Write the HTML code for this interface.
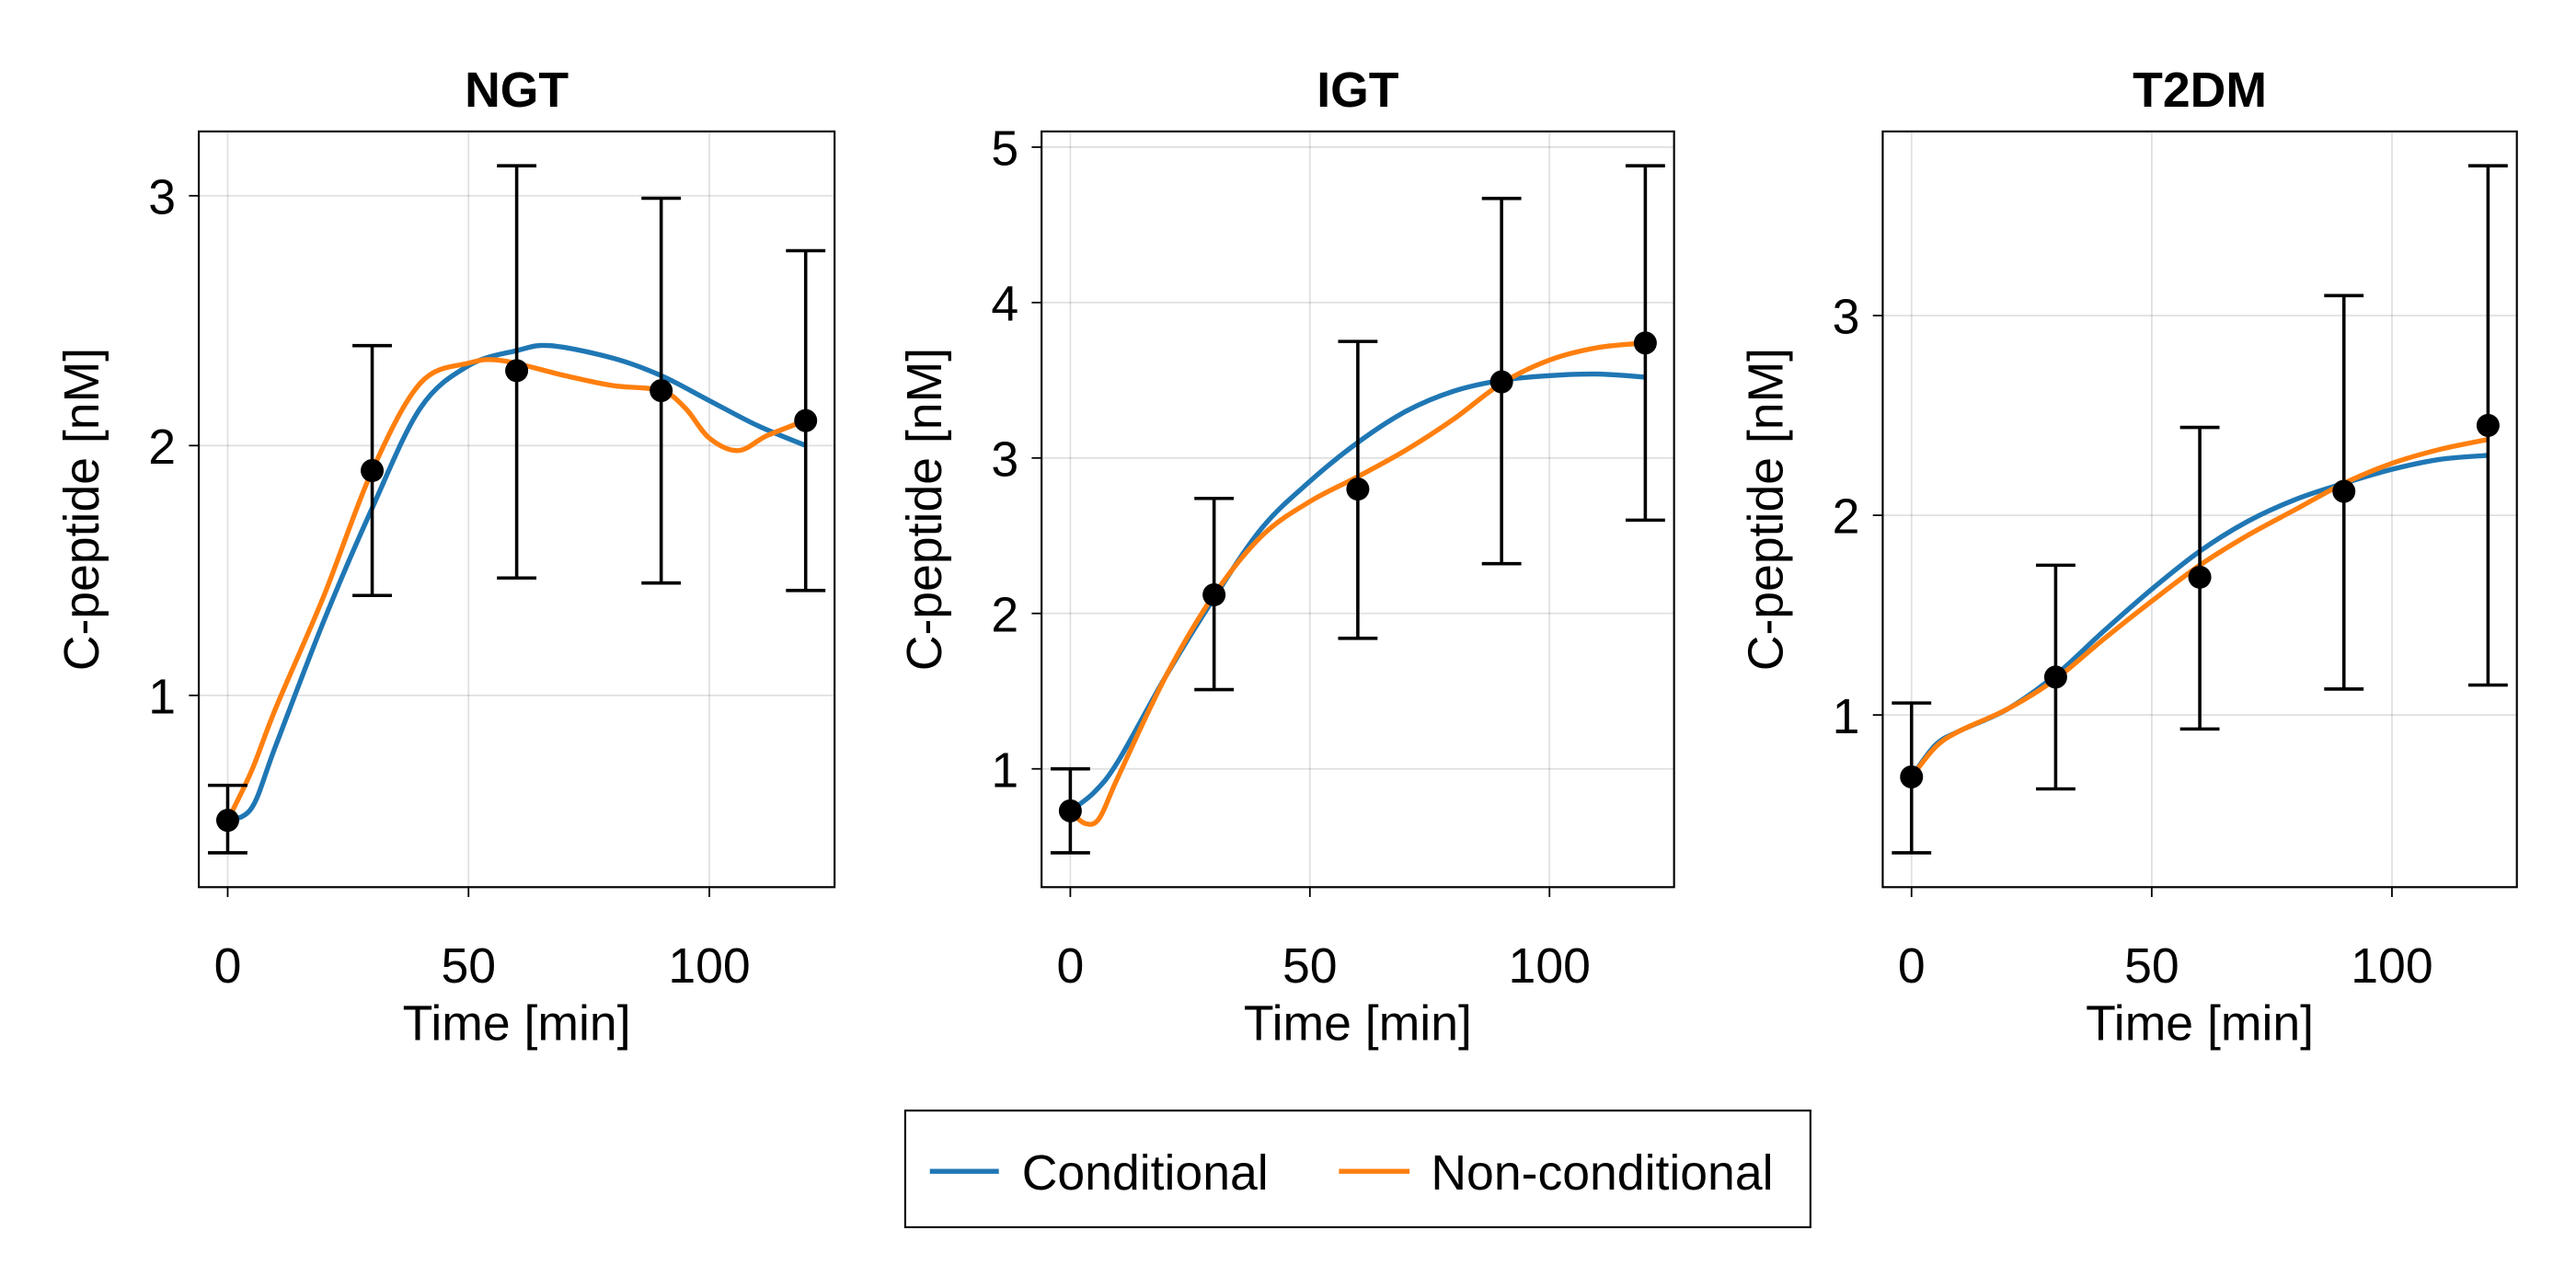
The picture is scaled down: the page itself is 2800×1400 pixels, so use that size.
<!DOCTYPE html>
<html><head><meta charset="utf-8"><style>
html,body{margin:0;padding:0;background:#fff;width:2800px;height:1400px;overflow:hidden}
svg{display:block}
text{font-family:"Liberation Sans",sans-serif;fill:#000}
</style></head><body>
<svg id="chart" width="2800" height="1400" viewBox="0 0 1568 784" xmlns="http://www.w3.org/2000/svg"></svg>
<script>
const panelTitles = ["NGT","IGT","T2DM"];
const timePoints = [0,30,60,90,120];
const ngtMean = [0.5,1.9,2.30,2.22,2.10];
const ngtLow = [0.37,1.40,1.47,1.45,1.42];
const ngtHigh = [0.64,2.40,3.12,2.99,2.78];
const igtMean = [0.73,2.12,2.80,3.49,3.74];
const igtLow = [0.46,1.51,1.84,2.32,2.60];
const igtHigh = [1.0,2.74,3.75,4.67,4.88];
const t2dmMean = [0.69,1.19,1.69,2.12,2.45];
const t2dmLow = [0.31,0.63,0.93,1.13,1.15];
const t2dmHigh = [1.06,1.75,2.44,3.10,3.75];
const ngtCurveT = [0,5,10,20,30,40,50,60,67,80,90,100,110,120];
const ngtCond = [0.5,0.55,0.8,1.3,1.75,2.15,2.32,2.38,2.40,2.35,2.28,2.18,2.08,2.0];
const ngtNonT = [0,5,10,20,30,40,50,57,70,80,90,95,100,106,112,120];
const ngtNon = [0.5,0.7,0.95,1.4,1.9,2.25,2.33,2.34,2.28,2.24,2.22,2.15,2.03,1.98,2.04,2.1];
const igtCondT = [0,5,10,20,30,40,50,60,70,80,90,100,110,120];
const igtCond = [0.73,0.85,1.05,1.6,2.1,2.55,2.85,3.1,3.3,3.43,3.5,3.53,3.54,3.52];
const igtNonT = [0,3,6,10,20,30,40,50,60,70,80,90,100,110,120];
const igtNon = [0.73,0.65,0.68,0.95,1.6,2.12,2.5,2.72,2.88,3.05,3.25,3.48,3.63,3.71,3.74];
const t2dmCurveT = [0,5,10,20,30,40,50,60,70,80,90,100,110,120];
const t2dmCond = [0.69,0.85,0.92,1.03,1.2,1.42,1.63,1.82,1.97,2.08,2.16,2.23,2.28,2.30];
const t2dmNon = [0.69,0.84,0.92,1.03,1.18,1.38,1.57,1.75,1.9,2.03,2.16,2.26,2.33,2.38];
const xTicks = [0,50,100];
const ngtYTicks = [1,2,3];
const igtYTicks = [1,2,3,4,5];
const t2dmYTicks = [1,2,3];

const svg = document.getElementById('chart');
const NS = "http://www.w3.org/2000/svg";
const FS = 30;
function mk(tag, attrs, parent){const e=document.createElementNS(NS,tag);for(const k in attrs)e.setAttribute(k,attrs[k]);(parent||svg).appendChild(e);return e;}
function smooth(pts){let d=`M${pts[0][0]},${pts[0][1]}`;for(let i=0;i<pts.length-1;i++){const p0=pts[Math.max(i-1,0)],p1=pts[i],p2=pts[i+1],p3=pts[Math.min(i+2,pts.length-1)];
const c1=[p1[0]+(p2[0]-p0[0])/6,p1[1]+(p2[1]-p0[1])/6],c2=[p2[0]-(p3[0]-p1[0])/6,p2[1]-(p3[1]-p1[1])/6];d+=` C${c1[0]},${c1[1]} ${c2[0]},${c2[1]} ${p2[0]},${p2[1]}`;}return d;}

const panels = [
 {left:121,right:508,mean:ngtMean,low:ngtLow,high:ngtHigh,condT:ngtCurveT,cond:ngtCond,nonT:ngtNonT,non:ngtNon,yt:ngtYTicks},
 {left:634,right:1019,mean:igtMean,low:igtLow,high:igtHigh,condT:igtCondT,cond:igtCond,nonT:igtNonT,non:igtNon,yt:igtYTicks},
 {left:1146,right:1532,mean:t2dmMean,low:t2dmLow,high:t2dmHigh,condT:t2dmCurveT,cond:t2dmCond,nonT:t2dmCurveT,non:t2dmNon,yt:t2dmYTicks}
];
const axTop=80,axBottom=540;
panels.forEach((p,i)=>{
  const g=mk('g',{});
  
  
  const xmin=-6,xmax=126;
  const ymin=Math.min(...p.low),ymax=Math.max(...p.high),pad=(ymax-ymin)*0.05;
  const y0=ymin-pad,y1=ymax+pad;
  const X=v=>p.left+(v-xmin)/(xmax-xmin)*(p.right-p.left);
  const Y=v=>axBottom-(v-y0)/(y1-y0)*(axBottom-axTop);
  xTicks.forEach(t=>{
    const gl=mk('line',{x1:X(t),x2:X(t),y1:axTop,y2:axBottom,stroke:'#000','stroke-opacity':0.12,'stroke-width':1},g);
    
    mk('line',{x1:X(t),x2:X(t),y1:axBottom,y2:axBottom+6,stroke:'#000','stroke-width':1},g);
    const tx=mk('text',{x:X(t),y:axBottom+58,'text-anchor':'middle','font-size':FS},g);tx.textContent=t;
    
  });
  p.yt.forEach(t=>{
    const gl=mk('line',{x1:p.left,x2:p.right,y1:Y(t),y2:Y(t),stroke:'#000','stroke-opacity':0.12,'stroke-width':1},g);
    
    mk('line',{x1:p.left-6,x2:p.left,y1:Y(t),y2:Y(t),stroke:'#000','stroke-width':1},g);
    const tx=mk('text',{x:p.left-14,y:Y(t)+11,'text-anchor':'end','font-size':FS},g);tx.textContent=t;
    
  });
  const cp=mk('path',{d:smooth(p.condT.map((t,k)=>[X(t),Y(p.cond[k])])),fill:'none',stroke:'#1f77b4','stroke-width':3},g);
  
  const np=mk('path',{d:smooth(p.nonT.map((t,k)=>[X(t),Y(p.non[k])])),fill:'none',stroke:'#ff7f0e','stroke-width':3},g);
  
  timePoints.forEach((t,k)=>{
    const eb=mk('path',{d:`M${X(t)},${Y(p.low[k])}V${Y(p.high[k])}M${X(t)-12},${Y(p.low[k])}h24M${X(t)-12},${Y(p.high[k])}h24`,stroke:'#000','stroke-width':2,fill:'none'},g);
    
    const c=mk('circle',{cx:X(t),cy:Y(p.mean[k]),r:7,fill:'#000'},g);
    
  });
  const bx=mk('rect',{x:p.left,y:axTop,width:p.right-p.left,height:axBottom-axTop,fill:'none',stroke:'#000','stroke-width':1.2},g);
  
  const ti=mk('text',{x:(p.left+p.right)/2,y:65,'text-anchor':'middle','font-size':FS,'font-weight':'bold'},g);ti.textContent=panelTitles[i];
  
  const xl=mk('text',{x:(p.left+p.right)/2,y:633,'text-anchor':'middle','font-size':FS},g);xl.textContent='Time [min]';
  
  const yx=p.left-61;
  const yl=mk('text',{x:yx,y:(axTop+axBottom)/2,'text-anchor':'middle','font-size':FS,transform:`rotate(-90 ${yx} ${(axTop+axBottom)/2})`},g);yl.textContent='C-peptide [nM]';
  
});
const lg=mk('g',{});


mk('rect',{x:551,y:676,width:551,height:71,fill:'#fff',stroke:'#000','stroke-width':1.2},lg);
mk('line',{x1:566,x2:608,y1:713,y2:713,stroke:'#1f77b4','stroke-width':3},lg);
const l1=mk('text',{x:622,y:724,'font-size':FS},lg);l1.textContent='Conditional';

mk('line',{x1:815,x2:858,y1:713,y2:713,stroke:'#ff7f0e','stroke-width':3},lg);
const l2=mk('text',{x:871,y:724,'font-size':FS},lg);l2.textContent='Non-conditional';

</script>
</body></html>
